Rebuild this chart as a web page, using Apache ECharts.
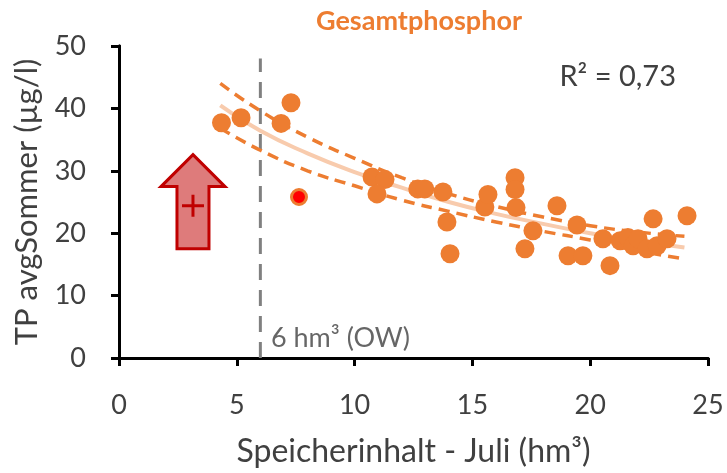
<!DOCTYPE html>
<html>
<head>
<meta charset="utf-8">
<script src="https://cdn.jsdelivr.net/npm/echarts@6/dist/echarts.min.js"></script>
<style>
  html, body { margin: 0; padding: 0; background: #ffffff; }
  #chart { width: 727px; height: 473px; }
</style>
</head>
<body>
<div id="chart"></div>
<script>
// Storage volume in July (hm³) and mean summer total phosphorus (µg/l)
const volumeJuly = [4.35, 5.18, 6.88, 7.30, 10.74, 11.29, 10.95, 12.68, 12.98, 13.75, 13.92, 14.05,
  15.53, 15.66, 16.81, 16.81, 16.85, 17.23, 17.57, 18.59, 19.06, 19.44, 19.69, 20.54, 20.84,
  21.27, 21.60, 21.82, 22.03, 22.41, 22.67, 22.84, 23.26, 24.11];
const tpSummer = [37.7, 38.5, 37.6, 40.9, 29.0, 28.6, 26.3, 27.1, 27.1, 26.6, 21.8, 16.7,
  24.2, 26.2, 28.9, 27.0, 24.1, 17.5, 20.4, 24.4, 16.4, 21.3, 16.4, 19.1, 14.8,
  18.8, 19.3, 18.0, 19.1, 17.5, 22.3, 18.0, 19.1, 22.8];

// Highlighted year
const highlightX = [7.64];
const highlightY = [25.8];

// Regression curve with upper and lower confidence band
const fitX = [4.3, 6, 8, 10, 12, 14, 16, 18, 20, 22, 24];
const fitY = [40.5, 36.4, 32.8, 29.8, 27.3, 25.0, 23.1, 21.5, 20.0, 18.8, 17.7];
const fitUpper = [44.0, 39.6, 35.4, 32.0, 28.9, 26.3, 24.3, 22.6, 21.2, 20.2, 19.5];
const fitLower = [36.8, 33.3, 30.0, 27.6, 25.3, 23.5, 21.8, 20.3, 18.9, 17.2, 15.9];

// Threshold volume and its label
const thresholdX = 6;
const thresholdTop = 48;
const thresholdLabel = '6 hm³ (OW)';

// Estimated value with expected increase (arrow)
const estimateX = 3.14;
const estimateY = 24.4;
const arrowTopY = 32.6;
const arrowBottomY = 17.5;

const xTicks = { min: 0, max: 25, interval: 5 };
const yTicks = { min: 0, max: 50, interval: 10 };

const titleText = 'Gesamtphosphor';
const r2Text = 'R² = 0,73';
const xName = 'Speicherinhalt - Juli (hm³)';
const yName = 'TP avgSommer (µg/l)';

const FONT = 'Lato, "Open Sans", sans-serif';
const ORANGE = '#ED7D31';
const TEXT = '#404040';

const pairs = (xs, ys) => xs.map((x, i) => [x, ys[i]]);

const chart = echarts.init(document.getElementById('chart'), null, { renderer: 'canvas' });

const axisLine = { show: true, lineStyle: { color: '#000', width: 3 } };

chart.setOption({
  animation: false,
  backgroundColor: '#fff',
  title: {
    text: titleText,
    left: 414, top: 3,
    textAlign: 'center',
    textStyle: { color: ORANGE, fontFamily: FONT, fontSize: 27, fontWeight: 'bold' }
  },
  grid: { left: 119, right: 19, top: 46, bottom: 113 },
  xAxis: [{
    type: 'value', min: xTicks.min, max: xTicks.max, interval: xTicks.interval,
    name: xName, nameLocation: 'middle', nameGap: 78,
    nameTextStyle: { color: TEXT, fontFamily: FONT, fontSize: 32 },
    axisLine: axisLine,
    axisTick: { show: true, inside: false, length: 8, lineStyle: { color: '#000', width: 3 } },
    axisLabel: { color: TEXT, fontFamily: FONT, fontSize: 27, margin: 34 },
    splitLine: { show: false }
  }, {
    type: 'value', position: 'top', min: xTicks.min, max: xTicks.max,
    axisLine: axisLine, axisTick: { show: false }, axisLabel: { show: false }, splitLine: { show: false }
  }],
  yAxis: [{
    type: 'value', min: yTicks.min, max: yTicks.max, interval: yTicks.interval,
    name: yName, nameLocation: 'middle', nameGap: 77,
    nameTextStyle: { color: TEXT, fontFamily: FONT, fontSize: 31 },
    axisLine: axisLine,
    axisTick: { show: true, inside: false, length: 8, lineStyle: { color: '#000', width: 3 } },
    axisLabel: { color: TEXT, fontFamily: FONT, fontSize: 27, margin: 33 },
    splitLine: { show: false }
  }, {
    type: 'value', position: 'right', min: yTicks.min, max: yTicks.max,
    axisLine: axisLine, axisTick: { show: false }, axisLabel: { show: false }, splitLine: { show: false }
  }],
  graphic: [{
    type: 'text', right: 51, top: 62,
    style: { text: r2Text, fill: TEXT, font: '29px ' + FONT }
  }],
  series: [
    {
      // threshold volume
      type: 'line', z: 1, silent: true, symbol: 'none',
      data: [[thresholdX, yTicks.min], [thresholdX, thresholdTop]],
      lineStyle: { color: '#808080', width: 3, type: [16, 10] }
    },
    {
      type: 'scatter', z: 1, symbolSize: 0, silent: true,
      data: [[thresholdX + 0.45, 3.2]],
      label: { show: true, position: 'right', distance: 0, formatter: thresholdLabel,
        color: TEXT, fontFamily: FONT, fontSize: 27 }
    },
    {
      type: 'line', z: 2, smooth: true, symbol: 'none', silent: true,
      data: pairs(fitX, fitY),
      lineStyle: { color: '#F8CBAD', width: 4 }
    },
    {
      type: 'line', z: 2, smooth: true, symbol: 'none', silent: true,
      data: pairs(fitX, fitUpper),
      lineStyle: { color: ORANGE, width: 3.5, type: [11, 7] }
    },
    {
      type: 'line', z: 2, smooth: true, symbol: 'none', silent: true,
      data: pairs(fitX, fitLower),
      lineStyle: { color: ORANGE, width: 3.5, type: [11, 7] }
    },
    {
      type: 'scatter', z: 3, symbolSize: 19,
      data: pairs(volumeJuly, tpSummer),
      itemStyle: { color: ORANGE, opacity: 1 }
    },
    {
      type: 'scatter', z: 4, symbolSize: 15,
      data: pairs(highlightX, highlightY),
      itemStyle: { color: '#FF0000', borderColor: ORANGE, borderWidth: 3, opacity: 1 }
    },
    {
      // arrow indicating the expected increase, anchored at the estimate
      type: 'custom', z: 5, silent: true,
      data: [[estimateX, estimateY, arrowTopY, arrowBottomY]],
      renderItem: function (params, api) {
        const c = api.coord([api.value(0), api.value(1)]);
        const top = api.coord([api.value(0), api.value(2)])[1];
        const bottom = api.coord([api.value(0), api.value(3)])[1];
        const headHalf = 32, shaftHalf = 16, headH = 32, plus = 11;
        const x = c[0];
        return {
          type: 'group',
          children: [{
            type: 'polygon',
            shape: { points: [
              [x, top], [x + headHalf, top + headH], [x + shaftHalf, top + headH],
              [x + shaftHalf, bottom], [x - shaftHalf, bottom], [x - shaftHalf, top + headH],
              [x - headHalf, top + headH]
            ] },
            style: { fill: 'rgba(206, 60, 60, 0.68)', stroke: '#C00000', lineWidth: 3, lineJoin: 'miter' }
          }, {
            type: 'line', shape: { x1: x - plus, y1: c[1], x2: x + plus, y2: c[1] },
            style: { stroke: '#C00000', lineWidth: 3 }
          }, {
            type: 'line', shape: { x1: x, y1: c[1] - plus, x2: x, y2: c[1] + plus },
            style: { stroke: '#C00000', lineWidth: 3 }
          }]
        };
      }
    }
  ]
});
</script>
</body>
</html>
